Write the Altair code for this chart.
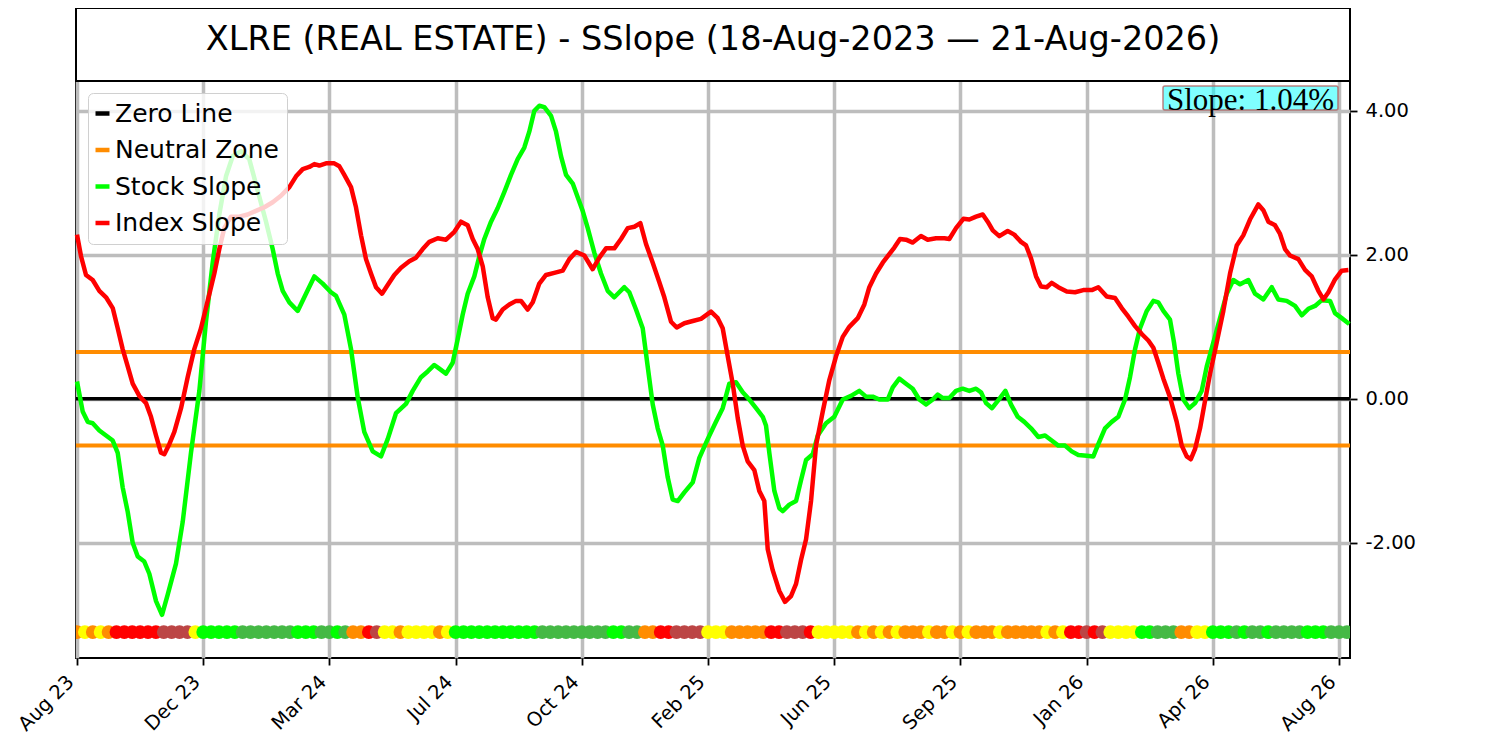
import altair as alt
import pandas as pd

# ---------------- data ----------------
TITLE = "XLRE (REAL ESTATE) - SSlope (18-Aug-2023 \u2014 21-Aug-2026)"
TICK_POS = [0, 16, 32, 48, 64, 80, 96, 112, 128, 144, 160]
TICK_LABELS = ["Aug 23", "Dec 23", "Mar 24", "Jul 24", "Oct 24", "Feb 25",
               "Jun 25", "Sep 25", "Jan 26", "Apr 26", "Aug 26"]
Y_TICKS = [-2, 0, 2, 4]

SERIES = ["Zero Line", "Neutral Zone", "Stock Slope", "Index Slope"]
SERIES_COLORS = ["#000000", "#ff8c00", "#00ff00", "#ff0000"]

ZERO = [0.0]
NEUTRAL = [0.65, -0.65]

STOCK_T = [0, 0.72, 1.36, 1.99, 2.83, 3.68, 4.53, 5.16, 5.79, 6.43, 7.06, 7.70, 8.53, 9.17,
           10.02, 10.78, 11.50, 12.55, 13.40, 14.45, 15.51, 16.35, 17.20, 18.04, 18.89, 19.74,
           20.79, 21.84, 22.91, 23.96, 24.81, 25.45, 26.08, 26.92, 27.98, 29.03, 30.09, 31.15,
           32.20, 32.84, 33.89, 34.74, 35.59, 36.42, 37.49, 38.54, 39.39, 40.44, 41.71, 42.56,
           43.61, 44.46, 45.30, 45.93, 46.78, 47.63, 48.27, 48.90, 49.53, 50.37, 51.01, 51.64,
           52.49, 53.34, 54.17, 55.02, 55.87, 56.71, 57.34, 57.98, 58.61, 59.25, 60.10, 60.73,
           61.36, 62.00, 62.85, 63.48, 64.11, 64.75, 65.58, 66.43, 67.28, 68.12, 68.75, 69.39,
           70.02, 70.87, 71.72, 72.35, 72.99, 73.62, 74.26, 74.89, 75.52, 76.16, 77.00, 78.06,
           78.90, 79.96, 81.01, 81.86, 82.70, 83.55, 84.40, 85.24, 86.09, 86.94, 87.35, 87.77,
           88.41, 89.04, 89.47, 90.31, 91.16, 91.79, 92.43, 93.27, 93.91, 94.96, 96.01, 97.08,
           98.13, 99.18, 100.03, 100.88, 101.72, 102.78, 103.42, 104.25, 105.10, 105.95, 106.79,
           107.64, 108.49, 109.12, 109.76, 110.59, 111.44, 112.29, 113.13, 113.98, 114.61,
           115.25, 116.01, 116.86, 117.70, 118.42, 119.27, 120.10, 120.95, 121.88, 122.73,
           123.57, 124.41, 125.26, 126.11, 126.95, 128.01, 128.85, 129.48, 130.33, 131.18,
           132.02, 132.87, 133.50, 134.14, 134.77, 135.62, 136.46, 137.09, 137.73, 138.57,
           139.08, 139.63, 140.26, 141.02, 141.74, 142.59, 143.23, 144.06, 144.91, 145.76,
           146.60, 147.45, 148.50, 149.35, 150.40, 151.47, 152.30, 153.37, 154.42, 155.27,
           156.11, 156.96, 157.81, 158.86, 159.49, 160.34, 161.30]
STOCK_V = [0.24, -0.175, -0.32, -0.34, -0.44, -0.51, -0.58, -0.75, -1.23, -1.57, -2.00, -2.19,
           -2.26, -2.43, -2.81, -3.00, -2.72, -2.29, -1.71, -0.75, 0.11, 1.07, 1.89, 2.56, 3.09,
           3.37, 3.44, 3.33, 2.89, 2.46, 2.08, 1.74, 1.50, 1.34, 1.22, 1.46, 1.70, 1.60, 1.48,
           1.43, 1.17, 0.69, 0.02, -0.46, -0.73, -0.80, -0.56, -0.20, -0.07, 0.11, 0.30, 0.38,
           0.47, 0.42, 0.35, 0.50, 0.83, 1.17, 1.46, 1.70, 1.98, 2.22, 2.46, 2.65, 2.87, 3.11,
           3.33, 3.49, 3.71, 4.00, 4.07, 4.05, 3.93, 3.71, 3.37, 3.11, 2.99, 2.80, 2.61, 2.37,
           2.03, 1.74, 1.50, 1.41, 1.48, 1.55, 1.48, 1.24, 0.98, 0.45, -0.08, -0.41, -0.65,
           -1.09, -1.40, -1.42, -1.30, -1.16, -0.82, -0.56, -0.32, -0.13, 0.21, 0.23, 0.09,
           -0.01, -0.13, -0.25, -0.37, -0.75, -1.28, -1.52, -1.56, -1.47, -1.42, -1.13, -0.85,
           -0.77, -0.51, -0.34, -0.25, -0.01, 0.04, 0.11, 0.03, 0.03, -0.01, -0.01, 0.16, 0.28,
           0.21, 0.14, -0.01, -0.08, -0.01, 0.06, 0.01, 0.01, 0.11, 0.14, 0.11, 0.14, 0.09,
           -0.06, -0.13, -0.01, 0.11, -0.08, -0.25, -0.32, -0.41, -0.53, -0.51, -0.58, -0.65,
           -0.65, -0.73, -0.78, -0.79, -0.80, -0.63, -0.41, -0.32, -0.25, -0.01, 0.30, 0.69,
           0.98, 1.22, 1.36, 1.34, 1.22, 1.10, 0.78, 0.35, -0.01, -0.13, -0.06, 0.11, 0.45,
           0.78, 1.12, 1.46, 1.65, 1.59, 1.65, 1.46, 1.38, 1.55, 1.38, 1.36, 1.29, 1.16, 1.25,
           1.29, 1.37, 1.36, 1.19, 1.12, 1.04]

INDEX_T = [0, 0.51, 1.14, 1.99, 2.83, 3.68, 4.53, 5.16, 5.79, 6.43, 7.06, 7.90, 8.75, 9.38,
           10.02, 10.65, 11.07, 11.70, 12.34, 13.19, 14.03, 14.87, 15.72, 16.57, 17.41, 18.04,
           18.67, 19.52, 20.58, 21.64, 22.69, 23.75, 24.81, 25.86, 26.92, 27.77, 28.62, 29.45,
           30.09, 30.72, 31.57, 32.62, 33.26, 33.89, 34.74, 35.37, 36.01, 36.64, 37.27, 37.91,
           38.67, 39.39, 40.23, 41.08, 42.13, 42.98, 43.83, 44.67, 45.73, 46.78, 47.84, 48.68,
           49.53, 50.17, 50.80, 51.44, 52.07, 52.70, 53.12, 53.97, 54.81, 55.66, 56.29, 57.14,
           57.78, 58.61, 59.46, 60.51, 61.58, 62.42, 63.26, 64.32, 65.38, 66.22, 67.07, 68.12,
           68.97, 69.82, 70.66, 71.42, 72.14, 72.99, 73.83, 74.46, 75.31, 76.03, 77.00, 78.06,
           79.11, 80.38, 81.23, 81.86, 82.50, 83.13, 83.77, 84.40, 85.03, 85.87, 86.50, 87.14,
           87.57, 88.20, 89.04, 89.76, 90.52, 91.16, 91.79, 92.43, 93.06, 93.69, 94.54, 95.38,
           96.23, 97.08, 97.91, 98.98, 99.82, 100.45, 101.30, 102.15, 102.98, 103.62, 104.34,
           105.10, 105.95, 107.00, 107.85, 108.91, 109.96, 110.59, 111.44, 112.37, 113.13,
           113.98, 114.83, 115.46, 116.10, 116.93, 117.99, 118.83, 119.68, 120.32, 120.95,
           121.59, 122.22, 122.94, 123.57, 124.41, 125.48, 126.53, 127.58, 128.65, 129.48,
           130.55, 131.60, 132.45, 133.29, 134.14, 134.99, 135.82, 136.46, 137.09, 137.73,
           138.57, 139.42, 140.06, 140.69, 141.20, 141.74, 142.38, 143.01, 143.65, 144.49,
           145.33, 146.18, 147.03, 147.86, 148.71, 149.77, 150.40, 151.04, 151.89, 152.52,
           153.15, 153.79, 154.84, 155.69, 156.54, 157.38, 158.02, 158.65, 159.50, 160.34,
           161.19]
INDEX_V = [2.28, 1.98, 1.72, 1.65, 1.50, 1.41, 1.26, 0.98, 0.69, 0.45, 0.21, 0.04, -0.06,
           -0.25, -0.51, -0.75, -0.77, -0.63, -0.46, -0.13, 0.30, 0.69, 0.98, 1.36, 1.74, 2.08,
           2.37, 2.53, 2.53, 2.56, 2.61, 2.66, 2.73, 2.82, 2.94, 3.09, 3.19, 3.22, 3.26, 3.24,
           3.27, 3.27, 3.23, 3.11, 2.94, 2.66, 2.27, 1.94, 1.74, 1.55, 1.46, 1.58, 1.72, 1.82,
           1.91, 1.96, 2.08, 2.18, 2.23, 2.21, 2.32, 2.46, 2.41, 2.22, 2.08, 1.84, 1.41, 1.12,
           1.10, 1.24, 1.31, 1.36, 1.36, 1.24, 1.34, 1.60, 1.72, 1.75, 1.78, 1.94, 2.04, 1.99,
           1.80, 1.96, 2.09, 2.09, 2.22, 2.37, 2.39, 2.44, 2.15, 1.89, 1.62, 1.41, 1.07, 0.99,
           1.05, 1.08, 1.11, 1.21, 1.12, 0.98, 0.59, 0.21, -0.27, -0.65, -0.87, -0.99, -1.28,
           -1.42, -2.09, -2.38, -2.67, -2.82, -2.74, -2.57, -2.24, -1.95, -1.42, -0.65, -0.18,
           0.26, 0.59, 0.86, 1.00, 1.12, 1.31, 1.55, 1.74, 1.89, 2.01, 2.10, 2.22, 2.21, 2.17,
           2.26, 2.21, 2.23, 2.23, 2.22, 2.37, 2.50, 2.49, 2.53, 2.56, 2.46, 2.34, 2.26, 2.33,
           2.28, 2.18, 2.13, 1.95, 1.70, 1.56, 1.55, 1.61, 1.55, 1.49, 1.48, 1.51, 1.51, 1.55,
           1.42, 1.40, 1.26, 1.14, 1.01, 0.90, 0.81, 0.71, 0.50, 0.28, 0.02, -0.32, -0.65,
           -0.80, -0.84, -0.70, -0.41, -0.03, 0.35, 0.78, 1.22, 1.74, 2.13, 2.27, 2.49, 2.70,
           2.62, 2.46, 2.41, 2.29, 2.08, 1.99, 1.94, 1.79, 1.70, 1.50, 1.38, 1.48, 1.66, 1.78,
           1.79]

# signal strip: one state code per period (O orange, Y yellow, R red, B brown-red,
# G bright green, g medium green)
STRIP_LEVEL = -3.24
STRIP_CODES = ("OYOYO" "RRRRRR" "BBBB" "Y" "GGGGG" "ggggggg" "GGG" "gg" "G" "g" "OO" "R" "B"
               "YY" "O" "YYYY" "O" "Y" "GGGGGGGGGGG" "ggggggggg" "GG" "gg" "OO" "RR" "BBBB"
               "YYY" "OOOOO" "RR" "BBB" "R" "YYYYY" "OYOYOY" "OOO" "Y" "OO" "Y" "O" "Y" "OOO"
               "Y" "OOOOO" "Y" "O" "Y" "RR" "B" "R" "B" "YYYY" "GG" "ggg" "OO" "YY" "GGG" "g"
               "G" "gg" "G" "gggg" "GGG" "ggg")
STRIP_DOMAIN = ["O", "Y", "R", "B", "G", "g"]
STRIP_RANGE = ["#ff8c00", "#ffff00", "#ff0000", "#bc4545", "#00ff00", "#45b945"]

# ---------------- layout ----------------
W, H = 1274, 577
X_DOMAIN = [-0.127, 161.39]
Y_DOMAIN = [-3.6, 4.414]

df_zero = pd.DataFrame({"v": ZERO, "series": "Zero Line"})
df_neutral = pd.DataFrame({"v": NEUTRAL, "series": "Neutral Zone"})
df_stock = pd.DataFrame({"t": STOCK_T, "v": STOCK_V, "series": "Stock Slope"})
df_index = pd.DataFrame({"t": INDEX_T, "v": INDEX_V, "series": "Index Slope"})
df_strip = pd.DataFrame({"t": list(range(len(STRIP_CODES))),
                         "v": STRIP_LEVEL,
                         "code": list(STRIP_CODES)})
one = pd.DataFrame({"k": [0]})
slope_text = f"Slope: {STOCK_V[-1]:.2f}%"

label_expr = ("[" + ",".join(f"'{s}'" for s in TICK_LABELS) + "][indexof(["
              + ",".join(str(p) for p in TICK_POS) + "], datum.value)]")

x_enc = alt.X("t:Q",
              scale=alt.Scale(domain=X_DOMAIN, nice=False, zero=False),
              axis=alt.Axis(values=TICK_POS, labelExpr=label_expr, title=None,
                            grid=True, gridColor="#bdbdbd", gridWidth=3.5,
                            labelAngle=315, labelAlign="right", labelBaseline="top",
                            labelFontSize=19.5, labelColor="#000000",
                            labelPadding=7, labelOffset=-13, labelOverlap=False,
                            tickSize=7, tickWidth=1.8, tickColor="#000000",
                            domain=False))
y_enc = alt.Y("v:Q",
              scale=alt.Scale(domain=Y_DOMAIN, nice=False, zero=False),
              axis=alt.Axis(orient="right", values=Y_TICKS, title=None,
                            labelExpr="(datum.value < 0 ? '-' : '') + format(abs(datum.value), '.2f')",
                            grid=True, gridColor="#bdbdbd", gridWidth=3.5,
                            labelFontSize=19.5, labelColor="#000000", labelPadding=8,
                            tickSize=7, tickWidth=1.8, tickColor="#000000",
                            domain=False))

legend = alt.Legend(title=None, orient="none", legendX=12, legendY=12,
                    symbolType="stroke", symbolSize=196, symbolStrokeWidth=4.5,
                    symbolOffset=-6,
                    labelFontSize=25, labelFont="DejaVu Sans", labelColor="#000000",
                    labelOffset=0, labelLimit=0, padding=8, rowPadding=10.5,
                    fillColor="rgba(255,255,255,0.8)", strokeColor="#d0d0d0",
                    cornerRadius=5)
color_enc = alt.Color("series:N",
                      scale=alt.Scale(domain=SERIES, range=SERIES_COLORS),
                      sort=SERIES, legend=legend)

zero_rule = alt.Chart(df_zero).mark_rule(strokeWidth=3.5).encode(y=y_enc, color=color_enc)
neutral_rule = alt.Chart(df_neutral).mark_rule(strokeWidth=4).encode(y=y_enc, color=color_enc)
stock_line = alt.Chart(df_stock).mark_line(strokeWidth=4.5, strokeJoin="round").encode(
    x=x_enc, y=y_enc, color=color_enc)
index_line = alt.Chart(df_index).mark_line(strokeWidth=4.5, strokeJoin="round").encode(
    x=x_enc, y=y_enc, color=color_enc)
strip = alt.Chart(df_strip).mark_circle(size=190, opacity=1, strokeWidth=0, clip=True).encode(
    x=x_enc, y=y_enc,
    fill=alt.Fill("code:N", scale=alt.Scale(domain=STRIP_DOMAIN, range=STRIP_RANGE), legend=None))

slope_box = alt.Chart(one).mark_rect(fill="#00ffff", fillOpacity=0.5, stroke="#b06060",
                                     strokeOpacity=0.8, strokeWidth=1.5, cornerRadius=2).encode(
    x=alt.value(1087), x2=alt.value(1262), y=alt.value(5), y2=alt.value(29))
slope_label = alt.Chart(one).mark_text(text=slope_text, font="Liberation Serif", fontSize=31,
                                       align="center", baseline="alphabetic",
                                       color="#000000").encode(
    x=alt.value(1174.5), y=alt.value(28.5))

title_box = alt.Chart(one).mark_rect(fill="#ffffff", stroke="#000000", strokeWidth=2).encode(
    x=alt.value(0), x2=alt.value(W), y=alt.value(-73), y2=alt.value(0))
title_label = alt.Chart(one).mark_text(text=TITLE, font="DejaVu Sans", fontSize=33.5,
                                       align="center", baseline="middle",
                                       color="#000000").encode(
    x=alt.value(W / 2), y=alt.value(-41))

chart = alt.layer(zero_rule, neutral_rule, stock_line, index_line, strip,
                  slope_box, slope_label, title_box, title_label).properties(
    width=W, height=H,
    autosize=alt.AutoSizeParams(type="none"),
    padding={"left": 68, "top": 73, "right": 140, "bottom": 76},
).configure(font="DejaVu Sans").configure_view(
    stroke="#000000", strokeWidth=2
).configure_axis(labelFont="DejaVu Sans")

chart.save("out.html", embed_options={"renderer": "svg", "actions": False})
